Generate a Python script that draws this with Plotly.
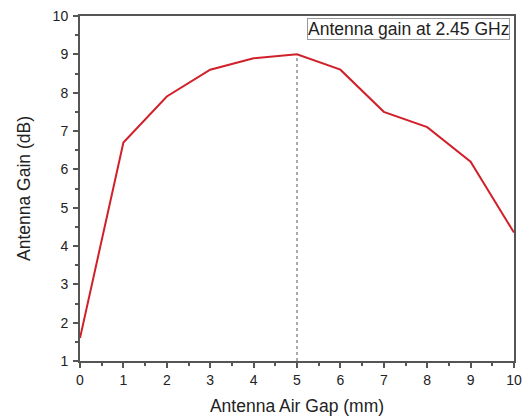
import plotly.graph_objects as go

air_gap_mm = [0, 1, 2, 3, 4, 5, 6, 7, 8, 9, 10]
gain_db = [1.6, 6.7, 7.9, 8.6, 8.9, 9.0, 8.6, 7.5, 7.1, 6.2, 4.35]
peak_x = 5
peak_y = 9.0

FONT = "Liberation Sans"

fig = go.Figure()
fig.add_trace(go.Scatter(x=air_gap_mm, y=gain_db, mode="lines",
                         line=dict(color="#d0202a", width=2), showlegend=False))
fig.add_trace(go.Scatter(x=[peak_x, peak_x], y=[1, peak_y], mode="lines",
                         line=dict(color="#555555", width=1, dash="dot"), showlegend=False))

axis_common = dict(showgrid=False, zeroline=False, showline=True, linecolor="#555555",
                   linewidth=2, mirror=True, ticks="outside", ticklen=5, tickwidth=1.5,
                   tickcolor="#555555", automargin=False,
                   tickfont=dict(family=FONT, size=14, color="#222222"))

fig.update_xaxes(range=[0, 10], dtick=1, tick0=0,
                 minor=dict(ticks="outside", ticklen=3, dtick=0.5, tickcolor="#555555"),
                 title=dict(text="Antenna Air Gap (mm)", standoff=13,
                            font=dict(family=FONT, size=17.5, color="#222222")),
                 **axis_common)
fig.update_yaxes(range=[1, 10], dtick=1, tick0=1,
                 minor=dict(ticks="outside", ticklen=3, dtick=0.5, tickcolor="#555555"),
                 ticklabelstandoff=2,
                 title=dict(text="Antenna Gain (dB)", standoff=17,
                            font=dict(family=FONT, size=17.5, color="#222222")),
                 **axis_common)

fig.add_annotation(x=1, y=1, xref="paper", yref="paper", xanchor="right", yanchor="top",
                   xshift=-4, yshift=-2,
                   text="Antenna gain at 2.45 GHz", showarrow=False,
                   font=dict(family=FONT, size=17.5, color="#222222"),
                   bordercolor="#999999", borderwidth=1, borderpad=0, bgcolor="white")

fig.update_layout(width=522, height=418, plot_bgcolor="white", paper_bgcolor="white",
                  margin=dict(l=80, r=8, t=16, b=57))

fig.write_html("out.html", config={"displayModeBar": False},
               post_script="document.body.style.margin='0';document.body.style.overflow='hidden';")
